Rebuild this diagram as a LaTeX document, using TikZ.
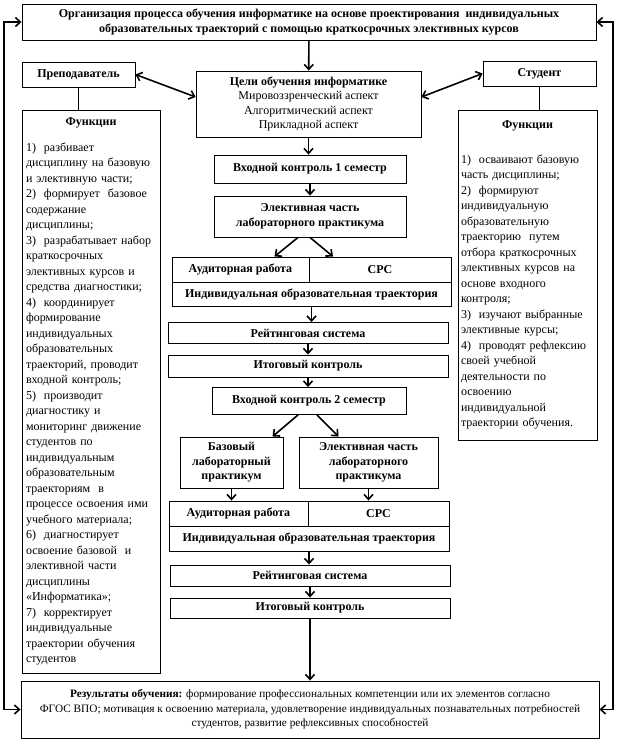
\documentclass[tikz,border=0pt]{standalone}
\usepackage{fontspec}
\setmainfont{Liberation Serif}
\usetikzlibrary{arrows.meta}

\begin{document}
\begin{tikzpicture}[x=1pt, y=-1pt,
  every node/.style={font=\fontsize{12}{14.5}\selectfont},
  box/.style={draw, line width=.9pt, inner sep=1pt, align=center,
    font=\fontsize{12}{14.5}\selectfont\bfseries},
  sz/.style 2 args={minimum width=#1pt, minimum height=#2pt},
  list/.style={box, align=left, font=\fontsize{12}{15.5}\selectfont},
  arr/.style={line width=1.6pt, -{Straight Barb[length=5pt,width=9pt]}},
  both/.style={line width=1.6pt, {Straight Barb[length=5pt,width=9pt]}-{Straight Barb[length=5pt,width=9pt]}},
  link/.style={line width=1.6pt}]
  \useasboundingbox (0,0) rectangle (619,746);

  % Title
  \node[box, sz={574}{36}] (title) at (309,22)
    {Организация процесса обучения информатике на основе проектирования\ \ индивидуальных\\
     образовательных траекторий с помощью краткосрочных элективных курсов};

  % === Left: teacher ===
  \node[box, sz={113}{25}] (teach) at (78.5,74.5) {Преподаватель};
  \node[list, sz={138}{563}, text width=130pt] (funcL) at (91,391.5)
    {\makebox[\hsize]{\textbf{Функции}}\\[10pt]
     1)\ \ разбивает\\
     дисциплину на базовую\\
     и элективную части;\\
     2)\ \ формирует\ \ базовое\\
     содержание\\
     дисциплины;\\
     3)\ \ разрабатывает набор\\
     краткосрочных\\
     элективных курсов и\\
     средства диагностики;\\
     4)\ \ координирует\\
     формирование\\
     индивидуальных\\
     образовательных\\
     траекторий, проводит\\
     входной контроль;\\
     5)\ \ производит\\
     диагностику и\\
     мониторинг движение\\
     студентов по\\
     индивидуальным\\
     образовательным\\
     траекториям\ \ в\\
     процессе освоения ими\\
     учебного материала;\\
     6)\ \ диагностирует\\
     освоение базовой\ \ и\\
     элективной части\\
     дисциплины\\
     «Информатика»;\\
     7)\ \ корректирует\\
     индивидуальные\\
     траектории обучения\\
     студентов};

  % === Right: student ===
  \node[box, sz={113}{25}] (student) at (539.5,73.5) {Студент};
  \node[list, sz={139}{330}, text width=133pt] (funcR) at (527.5,275)
    {\makebox[\hsize]{\textbf{Функции}}\\[19pt]
     1)\ \ осваивают базовую\\
     часть дисциплины;\\
     2)\ \ формируют\\
     индивидуальную\\
     образовательную\\
     траекторию\ \ путем\\
     отбора краткосрочных\\
     элективных курсов на\\
     основе входного\\
     контроля;\\
     3)\ \ изучают выбранные\\
     элективные курсы;\\
     4)\ \ проводят рефлексию\\
     своей учебной\\
     деятельности по\\
     освоению\\
     индивидуальной\\
     траектории обучения.};

  % === Centre: first semester ===
  \node[box, sz={225}{66}] (goals) at (308.5,104)
    {Цели обучения информатике\\
     \mdseries Мировоззренческий аспект\\
     \mdseries Алгоритмический аспект\\
     \mdseries Прикладной аспект};
  \node[box, sz={192}{28}] (in1) at (310,169) {Входной контроль 1 семестр};
  \node[box, sz={192}{41}] (el1) at (310,216.5) {Элективная часть\\ лабораторного практикума};
  \node[box, sz={137}{25}] (aud1) at (240.5,269.5) {Аудиторная работа};
  \node[box, sz={142}{25}] (srs1) at (380,269.5) {СРС};
  \node[box, sz={279}{24}] (traj1) at (311.5,294) {Индивидуальная образовательная траектория};
  \node[box, sz={280}{21}] (rate1) at (308,333) {Рейтинговая система};
  \node[box, sz={280}{22}] (final1) at (308,366) {Итоговый контроль};

  % === Centre: second semester ===
  \node[box, sz={194}{27}] (in2) at (309,401) {Входной контроль 2 семестр};
  \node[box, sz={103}{51}] (base2) at (231.5,462.5) {Базовый\\ лабораторный\\ практикум};
  \node[box, sz={139}{51}] (el2) at (368.5,462.5) {Элективная часть\\ лабораторного\\ практикума};
  \node[box, sz={139}{25}] (aud2) at (238.5,513.5) {Аудиторная работа};
  \node[box, sz={141}{25}] (srs2) at (378.5,513.5) {СРС};
  \node[box, sz={280}{25}] (traj2) at (309,538.5) {Индивидуальная образовательная траектория};
  \node[box, sz={280}{21}] (rate2) at (310,575.5) {Рейтинговая система};
  \node[box, sz={280}{20}] (final2) at (310,608) {Итоговый контроль};

  % Results
  \node[box, sz={578}{57}, font=\fontsize{11.3}{14.5}\selectfont] (result) at (310,709.5)
    {\textbf{Результаты обучения:} формирование профессиональных компетенции или их элементов согласно\\
     ФГОС ВПО; мотивация к освоению материала, удовлетворение индивидуальных познавательных потребностей\\
     студентов, развитие рефлексивных способностей};

  % --- connectors ---
  \draw[arr] (title) -- (goals);
  \draw[both] (teach.east) -- ([yshift=7pt]goals.west);
  \draw[both] ([yshift=7pt]goals.east) -- (student.west);
  \draw[link] (teach.south) -- (teach.south |- funcL.north);
  \draw[link] (student.south) -- (student.south |- funcR.north);

  \draw[arr] (goals.south) -- (goals.south |- in1.north);
  \draw[arr] (in1) -- (el1);
  \draw[arr] ([xshift=-12pt]el1.south) -- ([xshift=34pt]aud1.north);
  \draw[arr] (el1.south) -- ([xshift=-47pt]srs1.north);
  \draw[arr] (traj1) -- (traj1 |- rate1.north);
  \draw[arr] (rate1) -- (final1);
  \draw[arr] (final1) -- (final1 |- in2.north);

  \draw[arr] ([xshift=-11pt]in2.south) -- ([xshift=41pt]base2.north);
  \draw[arr] ([xshift=8pt]in2.south) -- ([xshift=-30pt]el2.north);
  \draw[arr] (base2.south) -- (base2.south |- aud2.north);
  \draw[arr] (el2.south) -- (el2.south |- srs2.north);
  \draw[arr] (traj2) -- (traj2 |- rate2.north);
  \draw[arr] (rate2) -- (final2);
  \draw[arr] (final2) -- (final2 |- result.north);

  % outer feedback loops
  \coordinate (loopL) at (4,0);
  \coordinate (loopR) at (613,0);
  \draw[both] (title.west) -- (title.west -| loopL) -- (result.west -| loopL) -- (result.west);
  \draw[both] (title.east) -- (title.east -| loopR) -- (result.east -| loopR) -- (result.east);
\end{tikzpicture}
\end{document}
